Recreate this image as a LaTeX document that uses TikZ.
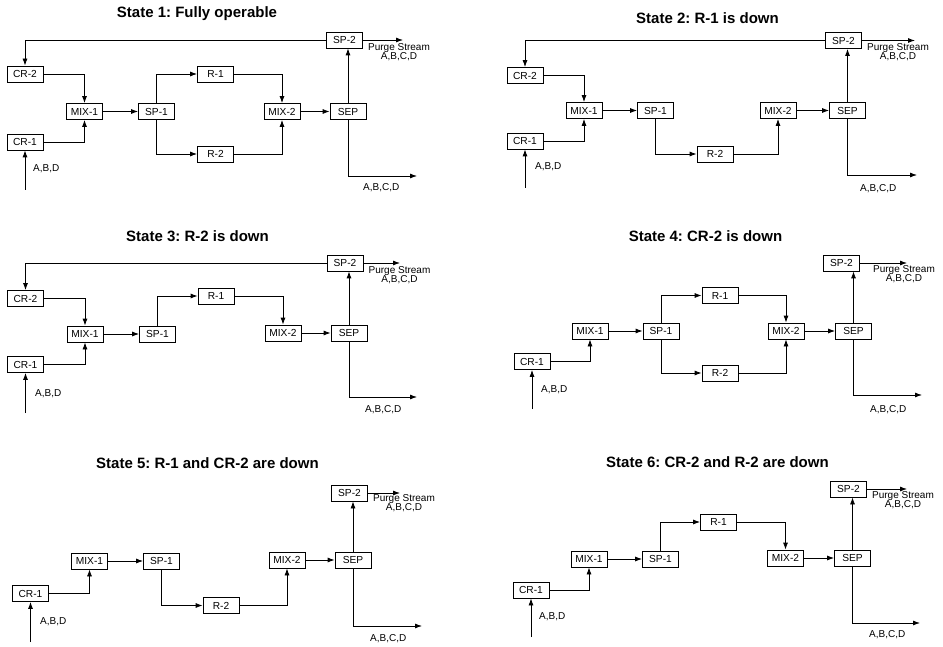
\documentclass[tikz,border=0pt]{standalone}
\usepackage{fontspec}
\setmainfont{Liberation Sans}
\usetikzlibrary{arrows.meta}
\frenchspacing
\tikzset{
  unitbox/.style={draw, line width=0.8pt, minimum width=36pt, minimum height=16pt,
    inner sep=0pt, font=\fontsize{10.2}{11}\selectfont},
  flow/.style={-{Latex[length=7pt,width=5pt]}, line width=0.8pt},
  heading/.style={anchor=base, font=\fontsize{15}{18}\selectfont\bfseries},
  tag/.style={anchor=base west, inner sep=0pt, font=\fontsize{10}{11}\selectfont},
  purge/.style={anchor=north, align=center, inner sep=0pt,
    font=\fontsize{10}{9.5}\selectfont}
}
\begin{document}
\begin{tikzpicture}[x=1pt, y=-1pt]
    \useasboundingbox (0,0) rectangle (943,647);
    % State 1
    \node[heading] (s1t) at (197,18) {State 1: Fully operable};
    \node[unitbox] (s1sp2) at (344.5,40) {SP-2};
    \node[unitbox] (s1cr2) at (25,74) {CR-2};
    \node[unitbox] (s1mix1) at (84.5,111.5) {MIX-1};
    \node[unitbox] (s1cr1) at (25,142) {CR-1};
    \node[unitbox] (s1sp1) at (156.5,111.5) {SP-1};
    \node[unitbox] (s1r1) at (215.5,74) {R-1};
    \node[unitbox] (s1r2) at (215.5,154) {R-2};
    \node[unitbox] (s1mix2) at (282,111.5) {MIX-2};
    \node[unitbox] (s1sep) at (348,111.5) {SEP};
    \coordinate (s1in) at (25,190);
    \coordinate (s1out) at (417,176);
    \coordinate (s1pg) at (403,40);
    \draw[flow] (s1in) -- (s1cr1.south);
    \draw[flow] (s1cr2.east) -| (s1mix1.north);
    \draw[flow] (s1cr1.east) -| (s1mix1.south);
    \draw[flow] (s1mix1.east) -- (s1sp1.west);
    \draw[flow] (s1sp1.north) |- (s1r1.west);
    \draw[flow] (s1sp1.south) |- (s1r2.west);
    \draw[flow] (s1r1.east) -| (s1mix2.north);
    \draw[flow] (s1r2.east) -| (s1mix2.south);
    \draw[flow] (s1mix2.east) -- (s1sep.west);
    \draw[flow] (s1sep.north) -- (s1sep.north |- s1sp2.south);
    \draw[flow] (s1sep.south) |- (s1out);
    \draw[flow] (s1sp2.east) -- (s1pg);
    \draw[flow] (s1sp2.west) -| (s1cr2.north);
    \node[tag] (s1feed) at (33,172) {A,B,D};
    \node[tag] (s1prod) at (363,191) {A,B,C,D};
    \node[purge] (s1purge) at (399,43) {Purge Stream\\A,B,C,D};

    % State 2
    \node[heading] (s2t) at (707.5,24) {State 2: R-1 is down};
    \node[unitbox] (s2sp2) at (843.5,40.5) {SP-2};
    \node[unitbox] (s2cr2) at (525,75.5) {CR-2};
    \node[unitbox] (s2mix1) at (584,110.5) {MIX-1};
    \node[unitbox] (s2cr1) at (525,141) {CR-1};
    \node[unitbox] (s2sp1) at (655.5,110.5) {SP-1};
    \node[unitbox] (s2r2) at (715,154) {R-2};
    \node[unitbox] (s2mix2) at (778,110.5) {MIX-2};
    \node[unitbox] (s2sep) at (847.5,110.5) {SEP};
    \coordinate (s2in) at (525,188);
    \coordinate (s2out) at (917,175);
    \coordinate (s2pg) at (915,40.5);
    \draw[flow] (s2in) -- (s2cr1.south);
    \draw[flow] (s2cr2.east) -| (s2mix1.north);
    \draw[flow] (s2cr1.east) -| (s2mix1.south);
    \draw[flow] (s2mix1.east) -- (s2sp1.west);
    \draw[flow] (s2sp1.south) |- (s2r2.west);
    \draw[flow] (s2r2.east) -| (s2mix2.south);
    \draw[flow] (s2mix2.east) -- (s2sep.west);
    \draw[flow] (s2sep.north) -- (s2sep.north |- s2sp2.south);
    \draw[flow] (s2sep.south) |- (s2out);
    \draw[flow] (s2sp2.east) -- (s2pg);
    \draw[flow] (s2sp2.west) -| (s2cr2.north);
    \node[tag] (s2feed) at (535,170) {A,B,D};
    \node[tag] (s2prod) at (860,192) {A,B,C,D};
    \node[purge] (s2purge) at (898,43) {Purge Stream\\A,B,C,D};

    % State 3
    \node[heading] (s3t) at (197.5,241.5) {State 3: R-2 is down};
    \node[unitbox] (s3sp2) at (345,263) {SP-2};
    \node[unitbox] (s3cr2) at (25.5,298.5) {CR-2};
    \node[unitbox] (s3mix1) at (85,334) {MIX-1};
    \node[unitbox] (s3cr1) at (25.5,364.5) {CR-1};
    \node[unitbox] (s3sp1) at (157.5,334) {SP-1};
    \node[unitbox] (s3r1) at (216,296) {R-1};
    \node[unitbox] (s3mix2) at (283,333) {MIX-2};
    \node[unitbox] (s3sep) at (349,333) {SEP};
    \coordinate (s3in) at (25.5,413);
    \coordinate (s3out) at (417,397);
    \coordinate (s3pg) at (400,263);
    \draw[flow] (s3in) -- (s3cr1.south);
    \draw[flow] (s3cr2.east) -| (s3mix1.north);
    \draw[flow] (s3cr1.east) -| (s3mix1.south);
    \draw[flow] (s3mix1.east) -- (s3sp1.west);
    \draw[flow] (s3sp1.north) |- (s3r1.west);
    \draw[flow] (s3r1.east) -| (s3mix2.north);
    \draw[flow] (s3mix2.east) -- (s3sep.west);
    \draw[flow] (s3sep.north) -- (s3sep.north |- s3sp2.south);
    \draw[flow] (s3sep.south) |- (s3out);
    \draw[flow] (s3sp2.east) -- (s3pg);
    \draw[flow] (s3sp2.west) -| (s3cr2.north);
    \node[tag] (s3feed) at (35,396) {A,B,D};
    \node[tag] (s3prod) at (365,412) {A,B,C,D};
    \node[purge] (s3purge) at (399.5,266) {Purge Stream\\A,B,C,D};

    % State 4
    \node[heading] (s4t) at (705.5,241.5) {State 4: CR-2 is down};
    \node[unitbox] (s4sp2) at (841.5,263) {SP-2};
    \node[unitbox] (s4mix1) at (590,331) {MIX-1};
    \node[unitbox] (s4cr1) at (532,361.5) {CR-1};
    \node[unitbox] (s4sp1) at (661,331) {SP-1};
    \node[unitbox] (s4r1) at (720,295.5) {R-1};
    \node[unitbox] (s4r2) at (720,373) {R-2};
    \node[unitbox] (s4mix2) at (786,331) {MIX-2};
    \node[unitbox] (s4sep) at (853.5,331) {SEP};
    \coordinate (s4in) at (532,409);
    \coordinate (s4out) at (922,395);
    \coordinate (s4pg) at (907,263);
    \draw[flow] (s4in) -- (s4cr1.south);
    \draw[flow] (s4cr1.east) -| (s4mix1.south);
    \draw[flow] (s4mix1.east) -- (s4sp1.west);
    \draw[flow] (s4sp1.north) |- (s4r1.west);
    \draw[flow] (s4sp1.south) |- (s4r2.west);
    \draw[flow] (s4r1.east) -| (s4mix2.north);
    \draw[flow] (s4r2.east) -| (s4mix2.south);
    \draw[flow] (s4mix2.east) -- (s4sep.west);
    \draw[flow] (s4sep.north) -- (s4sep.north |- s4sp2.south);
    \draw[flow] (s4sep.south) |- (s4out);
    \draw[flow] (s4sp2.east) -- (s4pg);
    \node[tag] (s4feed) at (541,392) {A,B,D};
    \node[tag] (s4prod) at (870,412) {A,B,C,D};
    \node[purge] (s4purge) at (904,265) {Purge Stream\\A,B,C,D};

    % State 5
    \node[heading] (s5t) at (207.5,468) {State 5: R-1 and CR-2 are down};
    \node[unitbox] (s5sp2) at (349.5,493) {SP-2};
    \node[unitbox] (s5mix1) at (89.5,561) {MIX-1};
    \node[unitbox] (s5cr1) at (30.5,593.5) {CR-1};
    \node[unitbox] (s5sp1) at (161.5,561) {SP-1};
    \node[unitbox] (s5r2) at (221,605.5) {R-2};
    \node[unitbox] (s5mix2) at (287,560) {MIX-2};
    \node[unitbox] (s5sep) at (353,560) {SEP};
    \coordinate (s5in) at (30.5,642);
    \coordinate (s5out) at (422,626);
    \coordinate (s5pg) at (400,493);
    \draw[flow] (s5in) -- (s5cr1.south);
    \draw[flow] (s5cr1.east) -| (s5mix1.south);
    \draw[flow] (s5mix1.east) -- (s5sp1.west);
    \draw[flow] (s5sp1.south) |- (s5r2.west);
    \draw[flow] (s5r2.east) -| (s5mix2.south);
    \draw[flow] (s5mix2.east) -- (s5sep.west);
    \draw[flow] (s5sep.north) -- (s5sep.north |- s5sp2.south);
    \draw[flow] (s5sep.south) |- (s5out);
    \draw[flow] (s5sp2.east) -- (s5pg);
    \node[tag] (s5feed) at (40,624) {A,B,D};
    \node[tag] (s5prod) at (370,641) {A,B,C,D};
    \node[purge] (s5purge) at (404,494) {Purge Stream\\A,B,C,D};

    % State 6
    \node[heading] (s6t) at (717.5,467) {State 6: CR-2 and R-2 are down};
    \node[unitbox] (s6sp2) at (848.5,489) {SP-2};
    \node[unitbox] (s6mix1) at (589,559) {MIX-1};
    \node[unitbox] (s6cr1) at (531,590) {CR-1};
    \node[unitbox] (s6sp1) at (660.5,559) {SP-1};
    \node[unitbox] (s6r1) at (718.5,522) {R-1};
    \node[unitbox] (s6mix2) at (785.5,558) {MIX-2};
    \node[unitbox] (s6sep) at (852.5,558) {SEP};
    \coordinate (s6in) at (531,637);
    \coordinate (s6out) at (920,623);
    \coordinate (s6pg) at (907,489);
    \draw[flow] (s6in) -- (s6cr1.south);
    \draw[flow] (s6cr1.east) -| (s6mix1.south);
    \draw[flow] (s6mix1.east) -- (s6sp1.west);
    \draw[flow] (s6sp1.north) |- (s6r1.west);
    \draw[flow] (s6r1.east) -| (s6mix2.north);
    \draw[flow] (s6mix2.east) -- (s6sep.west);
    \draw[flow] (s6sep.north) -- (s6sep.north |- s6sp2.south);
    \draw[flow] (s6sep.south) |- (s6out);
    \draw[flow] (s6sp2.east) -- (s6pg);
    \node[tag] (s6feed) at (539,619) {A,B,D};
    \node[tag] (s6prod) at (869,637) {A,B,C,D};
    \node[purge] (s6purge) at (903,491) {Purge Stream\\A,B,C,D};
\end{tikzpicture}
\end{document}
